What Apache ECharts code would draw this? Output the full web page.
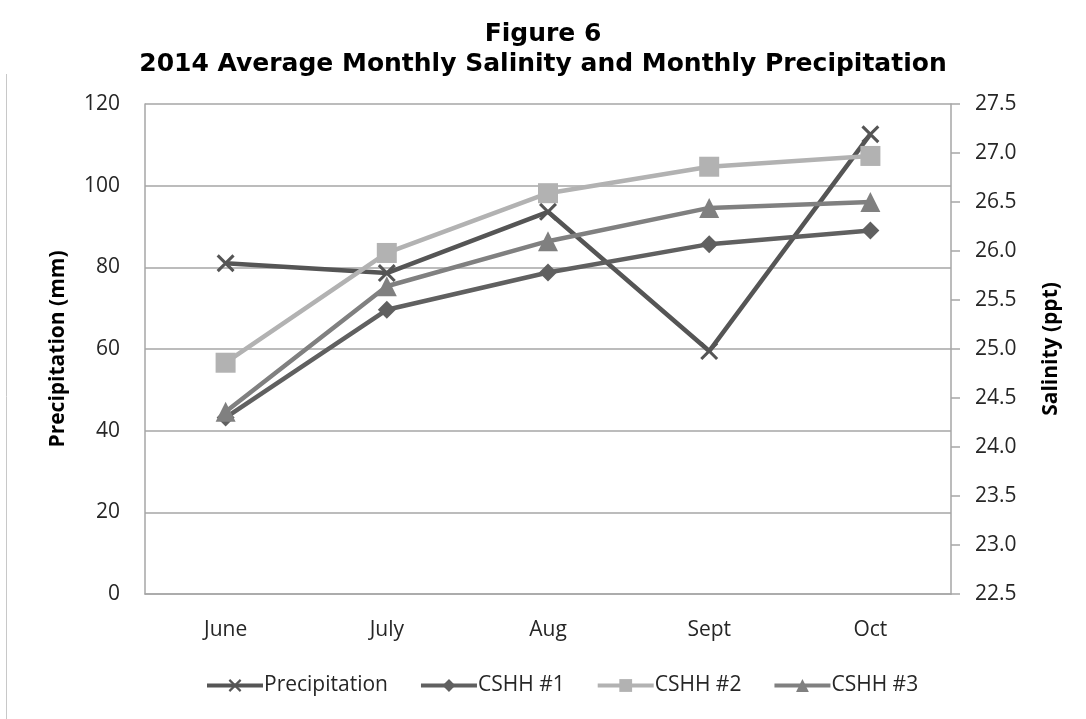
<!DOCTYPE html>
<html>
<head>
<meta charset="utf-8">
<title>Figure 6</title>
<script src="https://cdn.jsdelivr.net/npm/echarts@6/dist/echarts.min.js"></script>
<style>
  html, body { margin: 0; padding: 0; background: #fff; }
  #chart { width: 1086px; height: 719px; }
</style>
</head>
<body>
<div id="chart"></div>
<script>
// Months on the category axis
const months = ['June', 'July', 'Aug', 'Sept', 'Oct'];

// Monthly precipitation (mm), left axis
const precipitation = [81.0, 78.6, 93.6, 59.5, 112.6];

// Average monthly salinity (ppt) at each station, right axis
const cshh1 = [24.30, 25.40, 25.78, 26.07, 26.21];
const cshh2 = [24.86, 25.98, 26.59, 26.86, 26.97];
const cshh3 = [24.36, 25.64, 26.10, 26.44, 26.50];

// Axis tick settings
const precipTicks = { min: 0, max: 120, interval: 20 };
const salinityTicks = { min: 22.5, max: 27.5, interval: 0.5 };

const FONT = '"Open Sans", "Noto Sans", sans-serif';
const TITLE_FONT = '"DejaVu Sans", "Open Sans", sans-serif';
const AXIS_GREY = '#a6a6a6';

// Cross marker drawn as two filled diagonal bars
const crossSymbol = 'path://M0,1.2L1.2,0L10,8.8L8.8,10Z M8.8,0L10,1.2L1.2,10L0,8.8Z';

function lineSeries(name, data, color, symbol, size, yAxisIndex) {
  return {
    name: name,
    type: 'line',
    data: data,
    yAxisIndex: yAxisIndex,
    symbol: symbol,
    symbolSize: size,
    showSymbol: true,
    lineStyle: { color: color, width: 4.5 },
    itemStyle: { color: color, opacity: 1 },
    emphasis: { disabled: true },
    animation: false
  };
}

const chart = echarts.init(document.getElementById('chart'));
chart.setOption({
  backgroundColor: '#ffffff',
  title: {
    text: 'Figure 6\n2014 Average Monthly Salinity and Monthly Precipitation',
    left: 'center',
    top: 14,
    textStyle: {
      fontFamily: TITLE_FONT,
      fontWeight: 'bold',
      fontSize: 25,
      lineHeight: 30,
      color: '#000000'
    }
  },
  graphic: [{
    type: 'line',
    shape: { x1: 6.5, y1: 74, x2: 6.5, y2: 719 },
    style: { stroke: '#c8c8c8', lineWidth: 1 },
    silent: true
  }],
  grid: { left: 145, right: 135, top: 104, bottom: 125, containLabel: false },
  legend: {
    bottom: 18,
    left: 200,
    itemWidth: 56,
    itemHeight: 16,
    itemGap: 31,
    lineStyle: { width: 4 },
    textStyle: { fontFamily: FONT, fontSize: 21, color: '#262626', padding: [0, 0, 0, -4] },
    data: ['Precipitation', 'CSHH #1', 'CSHH #2', 'CSHH #3']
  },
  xAxis: {
    type: 'category',
    data: months,
    boundaryGap: true,
    axisLine: { show: true, lineStyle: { color: AXIS_GREY, width: 1.5 } },
    axisTick: { show: false },
    axisLabel: { fontFamily: FONT, fontSize: 21, color: '#262626', margin: 26 },
    splitLine: { show: false }
  },
  yAxis: [{
    type: 'value',
    position: 'left',
    min: precipTicks.min,
    max: precipTicks.max,
    interval: precipTicks.interval,
    name: 'Precipitation (mm)',
    nameLocation: 'middle',
    nameGap: 76,
    nameRotate: 90,
    nameTextStyle: { fontFamily: FONT, fontWeight: 'bold', fontSize: 21, color: '#000000' },
    axisLine: { show: true, lineStyle: { color: AXIS_GREY, width: 1.5 } },
    axisTick: { show: false },
    axisLabel: { fontFamily: FONT, fontSize: 21, color: '#262626', margin: 25 },
    splitLine: { show: true, lineStyle: { color: AXIS_GREY, width: 1.5 } }
  }, {
    type: 'value',
    position: 'right',
    min: salinityTicks.min,
    max: salinityTicks.max,
    interval: salinityTicks.interval,
    name: 'Salinity (ppt)',
    nameLocation: 'middle',
    nameGap: 90,
    nameRotate: 90,
    nameTextStyle: { fontFamily: FONT, fontWeight: 'bold', fontSize: 21, color: '#000000' },
    axisLine: { show: true, lineStyle: { color: AXIS_GREY, width: 1.5 } },
    axisTick: { show: true, inside: false, length: 9, lineStyle: { color: AXIS_GREY, width: 1.5 } },
    axisLabel: {
      fontFamily: FONT, fontSize: 21, color: '#262626', margin: 24,
      formatter: function (v) { return v.toFixed(1); }
    },
    splitLine: { show: false }
  }],
  series: [
    lineSeries('Precipitation', precipitation, '#555555', crossSymbol, 18, 0),
    lineSeries('CSHH #1', cshh1, '#606060', 'diamond', 18, 1),
    lineSeries('CSHH #2', cshh2, '#b2b2b2', 'rect', 20, 1),
    lineSeries('CSHH #3', cshh3, '#808080', 'triangle', 20, 1)
  ]
});
</script>
</body>
</html>
